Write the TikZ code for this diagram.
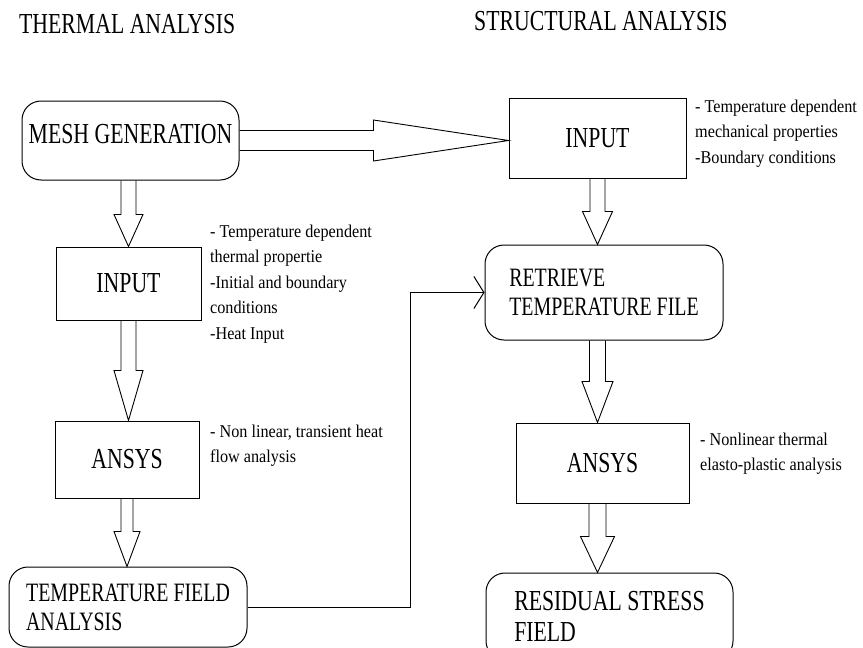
\documentclass[tikz,border=0pt]{standalone}
\usepackage{fontspec}
\setmainfont[FakeStretch=0.75]{Liberation Serif}
\newfontfamily\notefamily[FakeStretch=0.9]{Liberation Serif}
\usetikzlibrary{arrows.meta,calc}

% hollow block arrow: from, to, half shaft, half head, head length
\newcommand{\hollowarrow}[5]{%
  \coordinate (hb) at ($(#2)!#5!(#1)$);
  \draw[hollow] ($(#1)!#3!90:(#2)$) -- ($(hb)!#3!90:(#2)$) -- ($(hb)!#4!90:(#2)$) -- (#2)
    -- ($(hb)!#4!-90:(#2)$) -- ($(hb)!#3!-90:(#2)$) -- ($(#1)!#3!-90:(#2)$);
}

\begin{document}
\begin{tikzpicture}[x=1pt,y=-1pt,
  box/.style={draw,line width=1pt,inner sep=0pt,font=\fontsize{29}{33}\selectfont},
  rbox/.style={box,rounded corners=19pt},
  twoline/.style={align=left,font=\fontsize{26.5}{29}\selectfont},
  note/.style={anchor=north west,inner sep=0pt,align=left,font=\notefamily\fontsize{18}{25.5}\selectfont},
  heading/.style={anchor=west,inner sep=0pt,font=\fontsize{29}{33}\selectfont},
  hollow/.style={line width=0.9pt,line join=miter},
  feedback/.style={line width=1pt,-{Straight Barb[length=10pt,width=32pt]}}]
\useasboundingbox (0,0) rectangle (863,648);

% headings
\node[heading] (thermal) at (19,24) {THERMAL ANALYSIS};
\node[heading] (structural) at (474,21) {STRUCTURAL ANALYSIS};

% thermal column
\node[rbox,minimum width=217pt,minimum height=79pt,text depth=13pt] (mesh) at (130.5,140.5) {MESH GENERATION};
\node[box,minimum width=145pt,minimum height=73pt] (input1) at (128.5,283.5) {INPUT};
\node[box,minimum width=144pt,minimum height=77pt] (ansys1) at (127,459.5) {ANSYS};
\node[rbox,twoline,minimum width=238pt,minimum height=80pt] (tfield) at (128,607) {TEMPERATURE FIELD\\ANALYSIS};

% structural column
\node[box,minimum width=177pt,minimum height=80pt] (input2) at (597.5,138) {INPUT};
\node[rbox,twoline,minimum width=238pt,minimum height=95pt] (retrieve) at (604,292.5) {RETRIEVE\\TEMPERATURE FILE};
\node[box,minimum width=173pt,minimum height=80pt] (ansys2) at (602.5,463) {ANSYS};
\node[rbox,align=left,minimum width=247pt,minimum height=87pt,font=\fontsize{29}{31}\selectfont] (residual) at (609.5,616.5) {RESIDUAL STRESS\\FIELD};

% notes
\node[note] (input1note) at (210,224.5) {- Temperature dependent\\thermal propertie\\-Initial and boundary\\conditions\\-Heat Input};
\node[note] (ansys1note) at (210,424.5) {- Non linear, transient heat\\flow analysis};
\node[note] (input2note) at (695,99.5) {- Temperature dependent\\mechanical properties\\-Boundary conditions};
\node[note] (ansys2note) at (700,432.5) {- Nonlinear thermal\\elasto-plastic analysis};

% block arrows
\coordinate (m1) at (mesh.south -| input1.north);
\hollowarrow{m1}{input1.north}{7.5pt}{14.5pt}{32pt}
\coordinate (i1) at (input1.south |- ansys1.north);
\hollowarrow{input1.south}{i1}{7.5pt}{14.5pt}{50pt}
\coordinate (a1) at (ansys1.south |- tfield.north);
\hollowarrow{ansys1.south}{a1}{6pt}{13pt}{35pt}
\coordinate (m2) at (mesh.east -| input2.west);
\hollowarrow{mesh.east}{m2}{10pt}{20.5pt}{135pt}
\coordinate (i2) at (input2.south |- retrieve.north);
\hollowarrow{input2.south}{i2}{7.5pt}{15pt}{33pt}
\coordinate (r1) at (retrieve.south -| input2.south);
\coordinate (r2) at (ansys2.north -| input2.south);
\hollowarrow{r1}{r2}{8pt}{15.5pt}{41pt}
\coordinate (a2) at (ansys2.south -| input2.south);
\coordinate (a3) at (residual.north -| input2.south);
\hollowarrow{a2}{a3}{8.5pt}{17pt}{36pt}

% temperature file link
\coordinate (turn) at ([xshift=-74pt]retrieve.west);
\draw[feedback] (tfield.east) -| (turn) -- (retrieve.west);
\end{tikzpicture}
\end{document}
